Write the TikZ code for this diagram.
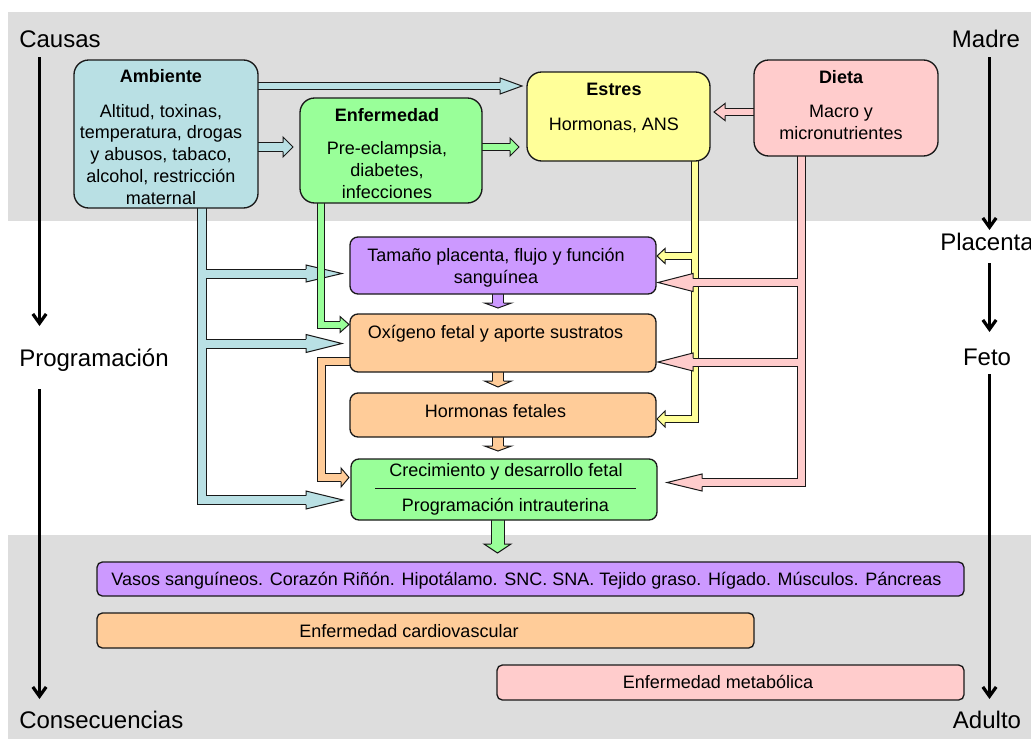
\documentclass[tikz,border=0pt]{standalone}
\usepackage{fontspec}
\setmainfont{Liberation Sans}
\usetikzlibrary{arrows.meta}
\definecolor{bgc}{RGB}{221,221,221}
\definecolor{cblue}{RGB}{185,224,228}
\definecolor{cgreen}{RGB}{153,255,153}
\definecolor{cyellow}{RGB}{255,255,153}
\definecolor{cpink}{RGB}{255,204,204}
\definecolor{cpurple}{RGB}{204,153,255}
\definecolor{corange}{RGB}{255,204,153}
\definecolor{lc}{RGB}{25,25,25}
% block-arrow head: colour, x base, x tip, y, half shaft, half head
\newcommand{\hhead}[6]{\filldraw[fill=#1,draw=lc,line width=0.75pt,line join=miter] (#2,{#4-#5}) -- (#2,{#4-#6}) -- (#3,#4) -- (#2,{#4+#6}) -- (#2,{#4+#5});}
% vertical: colour, y base, y tip, x, half shaft, half head
\newcommand{\vhead}[6]{\filldraw[fill=#1,draw=lc,line width=0.75pt,line join=miter] ({#4-#5},#2) -- ({#4-#6},#2) -- (#4,#3) -- ({#4+#6},#2) -- ({#4+#5},#2);}
% outlined shaft: colour, inner width (px), path
\newcommand{\shaft}[3]{\draw[draw=lc,line width={(#2+2)*0.75pt},line join=miter] #3; \draw[draw=#1,line width={#2*0.75pt},line join=miter] #3;}
\tikzset{
  box/.style={draw=lc, line width=1pt, rounded corners=#1, inner sep=0pt},
  txt/.style={inner sep=0pt, align=center, font=\fontsize{13.5}{16.3}\selectfont},
  lab/.style={inner sep=0pt, font=\fontsize{18}{21}\selectfont},
  axis/.style={line width=2.4pt, -{Straight Barb[length=7pt,width=10pt]}}
}
\begin{document}
\begin{tikzpicture}[x=0.75pt,y=-0.75pt]
\useasboundingbox (0,0) rectangle (1031,739);
\fill[bgc] (8,12) rectangle (1031,221);
\fill[bgc] (8,535) rectangle (1031,739);

% side labels
\node[lab,anchor=base west] (causas) at (19,47.7) {Causas};
\node[lab,anchor=base] (madre) at (986,47.7) {Madre};
\node[lab,anchor=base west] (placenta) at (940,250.7) {Placenta};
\node[lab,anchor=base west] (prog) at (19,366.7) {Programación};
\node[lab,anchor=base] (feto) at (987,365) {Feto};
\node[lab,anchor=base west] (cons) at (19,728.3) {Consecuencias};
\node[lab,anchor=base] (adulto) at (987,728.3) {Adulto};

\coordinate (la1) at (39.5,57); \coordinate (la2) at (39.5,326);
\coordinate (la3) at (39.5,389); \coordinate (la4) at (39.5,699);
\coordinate (ra1) at (989.5,57); \coordinate (ra2) at (989.5,230);
\coordinate (ra3) at (989.5,263); \coordinate (ra4) at (989.5,332);
\coordinate (ra5) at (989.5,374); \coordinate (ra6) at (989.5,699);
\draw[axis] (la1) -- (la2);
\draw[axis] (la3) -- (la4);
\draw[axis] (ra1) -- (ra2);
\draw[axis] (ra3) -- (ra4);
\draw[axis] (ra5) -- (ra6);

% ---- block arrows ----
% blue (Ambiente)
\shaft{cblue}{8}{(202,200) -- (202,500) -- (306,500) (202,273.5) -- (306,273.5) (202,343.5) -- (306,343.5)}
\hhead{cblue}{306}{343}{500}{4.5}{9}
\hhead{cblue}{306}{342}{273.5}{4.5}{8.5}
\hhead{cblue}{306}{342}{343.5}{4.5}{9}
\shaft{cblue}{6}{(250,86) -- (500,86)}
\hhead{cblue}{500}{522}{86}{3.5}{8}
\shaft{cblue}{8}{(250,147) -- (283,147)}
\hhead{cblue}{283}{293}{147}{4.5}{10}
% green (Enfermedad)
\shaft{cgreen}{6}{(321,195) -- (321,324.5) -- (340,324.5)}
\hhead{cgreen}{340}{349}{324.5}{3.5}{8}
\shaft{cgreen}{6}{(475,147) -- (510,147)}
\hhead{cgreen}{510}{519}{147}{3.5}{9}
% orange (Oxigeno)
\shaft{corange}{7}{(358,361.5) -- (321,361.5) -- (321,477.5) -- (341,477.5)}
\hhead{corange}{341}{349}{477.5}{4}{9.5}
% yellow (Estres)
\shaft{cyellow}{6}{(695,155) -- (695,419) -- (665,419) (695,256) -- (665,256)}
\hhead{cyellow}{665}{657}{256}{3.5}{7.5}
\hhead{cyellow}{665}{657}{419}{3.5}{8}
% pink (Dieta)
\shaft{cpink}{7}{(801.5,150) -- (801.5,482.5) -- (702,482.5) (801.5,282.5) -- (693,282.5) (801.5,362) -- (693,362)}
\hhead{cpink}{693}{658}{282.5}{4}{9}
\hhead{cpink}{693}{658}{362}{4}{9}
\hhead{cpink}{702}{667}{482.5}{4}{8.5}
\shaft{cpink}{6}{(760,112) -- (725,112)}
\hhead{cpink}{725}{714}{112}{3.5}{8.5}
% central chain
\shaft{cpurple}{10}{(498,290) -- (498,303)}
\vhead{cpurple}{303}{308}{498}{5.5}{13.5}
\shaft{corange}{10}{(498,368) -- (498,381)}
\vhead{corange}{381}{387}{498}{5.5}{13.5}
\shaft{corange}{10}{(498,433) -- (498,446)}
\vhead{corange}{446}{451}{498}{5.5}{13.5}
\shaft{cgreen}{12}{(497.5,515) -- (497.5,544)}
\vhead{cgreen}{544}{553}{497.5}{6.5}{13.5}

% ---- boxes ----
\node[box=11pt, fill=cblue, minimum width=138pt, minimum height=111pt] (amb) at (166,134) {};
\node[box=11pt, fill=cgreen, minimum width=136.5pt, minimum height=78.75pt] (enf) at (391,150.5) {};
\node[box=11pt, fill=cyellow, minimum width=137.25pt, minimum height=66.75pt] (est) at (618.5,116.5) {};
\node[box=11pt, fill=cpink, minimum width=138pt, minimum height=72pt] (die) at (846,108) {};
\node[box=6pt, fill=cpurple, minimum width=229.5pt, minimum height=42.75pt] (tam) at (503,265.5) {};
\node[box=6pt, fill=corange, minimum width=229.5pt, minimum height=43.5pt] (oxi) at (503,343) {};
\node[box=6pt, fill=corange, minimum width=229.5pt, minimum height=33pt] (hor) at (503,415) {};
\node[box=6pt, fill=cgreen, minimum width=229.5pt, minimum height=45.75pt] (cre) at (504,489.5) {};
\node[box=4pt, fill=cpurple, minimum width=650.25pt, minimum height=25.5pt] (vas) at (530.5,579) {};
\node[box=4pt, fill=corange, minimum width=492.75pt, minimum height=26.25pt] (car) at (425.5,630.5) {};
\node[box=4pt, fill=cpink, minimum width=350.25pt, minimum height=26.25pt] (met) at (730.5,682.5) {};

% ---- texts (multi-line: base = last line) ----
\node[txt,anchor=base] (ambT) at (161,82.7) {\bfseries Ambiente};
\node[txt,anchor=base] (ambB) at (161,204) {Altitud, toxinas,\\temperatura, drogas\\y abusos, tabaco,\\alcohol, restricción\\maternal};
\node[txt,anchor=base] (enfT) at (387,121.7) {\bfseries Enfermedad};
\node[txt,anchor=base] (enfB) at (387,198.3) {Pre-eclampsia,\\diabetes,\\infecciones};
\node[txt,anchor=base] (estT) at (614,95.7) {\bfseries Estres};
\node[txt,anchor=base] (estB) at (614,130) {Hormonas, ANS};
\node[txt,anchor=base] (dieT) at (841,83.3) {\bfseries Dieta};
\node[txt,anchor=base] (dieB) at (841,139) {Macro y\\micronutrientes};
\node[txt,anchor=base] (tamT) at (496,283.3) {Tamaño placenta, flujo y función\\sanguínea};
\node[txt,anchor=base] (oxiT) at (495.5,338) {Oxígeno fetal y aporte sustratos};
\node[txt,anchor=base] (horT) at (495.5,417.3) {Hormonas fetales};
\node[txt,anchor=base] (creT) at (506,476.7) {Crecimiento y desarrollo fetal};
\node[txt,anchor=base] (creB) at (505.5,511) {Programación intrauterina};
\draw[lc,line width=0.75pt] (cre.west -| 375,0) ++(0,-1.5) coordinate (sepL) -- (sepL -| 636,0);
\node[txt,anchor=base] (vasT) at (526.5,585) {Vasos sanguíneos. Corazón Riñón. Hipotálamo. SNC. SNA. Tejido graso. Hígado. Músculos. Páncreas};
\node[txt,anchor=base] (carT) at (409,637.3) {Enfermedad cardiovascular};
\node[txt,anchor=base] (metT) at (718,688.3) {Enfermedad metabólica};
\end{tikzpicture}
\end{document}
